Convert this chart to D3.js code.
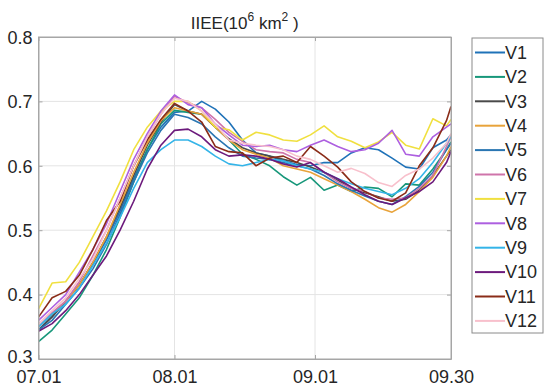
<!DOCTYPE html>
<html>
<head>
<meta charset="utf-8">
<script src="https://cdn.jsdelivr.net/npm/d3@7"></script>
<style>
  body { margin: 0; background: #fff; }
  text { font-family: "Liberation Sans", Arial, sans-serif; fill: #262626; }
</style>
</head>
<body>
<div id="chart"></div>
<script>
// day index from 07.01
var days = [0, 3, 6, 9, 12, 15, 18, 21, 24, 27, 30, 33, 36, 39, 42, 45, 48, 51, 54, 57, 60, 63, 66, 69, 72, 75, 78, 81, 84, 87, 90, 91];

var tickDays = [0, 30, 61, 91];
var tickLabels = ["07.01", "08.01", "09.01", "09.30"];
var yTicks = [0.3, 0.4, 0.5, 0.6, 0.7, 0.8];

var names = ["V1", "V2", "V3", "V4", "V5", "V6", "V7", "V8", "V9", "V10", "V11", "V12"];
var colors = ["#1f72b8", "#17977a", "#4a4a4a", "#e8a33a", "#2a76b2", "#cf74aa", "#f0e040", "#ad5fe0", "#34b4e8", "#6c1a7c", "#8a2c18", "#f8c0cc"];

var V1 = [0.345, 0.368, 0.39, 0.415, 0.448, 0.485, 0.53, 0.58, 0.625, 0.66, 0.683, 0.685, 0.70, 0.688, 0.668, 0.64, 0.62, 0.615, 0.608, 0.602, 0.60, 0.605, 0.605, 0.62, 0.628, 0.625, 0.612, 0.598, 0.595, 0.628, 0.64, 0.648];
var V2 = [0.327, 0.345, 0.37, 0.395, 0.43, 0.47, 0.52, 0.575, 0.625, 0.665, 0.686, 0.683, 0.68, 0.66, 0.64, 0.618, 0.61, 0.60, 0.583, 0.57, 0.582, 0.562, 0.57, 0.56, 0.567, 0.565, 0.552, 0.572, 0.57, 0.595, 0.625, 0.637];
var V3 = [0.345, 0.365, 0.39, 0.415, 0.45, 0.49, 0.535, 0.585, 0.632, 0.668, 0.695, 0.685, 0.68, 0.66, 0.642, 0.628, 0.62, 0.615, 0.61, 0.605, 0.598, 0.59, 0.578, 0.565, 0.558, 0.552, 0.545, 0.548, 0.562, 0.585, 0.615, 0.625];
var V4 = [0.35, 0.37, 0.39, 0.415, 0.45, 0.49, 0.54, 0.59, 0.635, 0.67, 0.69, 0.685, 0.68, 0.66, 0.64, 0.625, 0.618, 0.612, 0.60, 0.595, 0.59, 0.58, 0.57, 0.56, 0.548, 0.535, 0.528, 0.54, 0.56, 0.582, 0.615, 0.63];
var V5 = [0.345, 0.36, 0.385, 0.41, 0.44, 0.478, 0.525, 0.575, 0.62, 0.655, 0.68, 0.675, 0.665, 0.645, 0.628, 0.615, 0.612, 0.61, 0.605, 0.60, 0.595, 0.585, 0.572, 0.562, 0.553, 0.545, 0.54, 0.552, 0.568, 0.59, 0.625, 0.635];
var V6 = [0.35, 0.372, 0.39, 0.42, 0.46, 0.50, 0.55, 0.60, 0.645, 0.68, 0.708, 0.698, 0.69, 0.672, 0.652, 0.638, 0.625, 0.622, 0.62, 0.61, 0.605, 0.59, 0.575, 0.565, 0.56, 0.55, 0.548, 0.55, 0.565, 0.585, 0.63, 0.645];
var V7 = [0.378, 0.418, 0.42, 0.45, 0.49, 0.53, 0.575, 0.625, 0.66, 0.685, 0.70, 0.70, 0.685, 0.66, 0.656, 0.64, 0.652, 0.648, 0.64, 0.638, 0.648, 0.662, 0.645, 0.638, 0.628, 0.637, 0.652, 0.632, 0.626, 0.673, 0.662, 0.672];
var V8 = [0.36, 0.38, 0.40, 0.435, 0.47, 0.51, 0.56, 0.61, 0.65, 0.685, 0.71, 0.695, 0.69, 0.665, 0.648, 0.632, 0.63, 0.632, 0.625, 0.622, 0.632, 0.64, 0.63, 0.622, 0.625, 0.635, 0.655, 0.618, 0.615, 0.645, 0.66, 0.665];
var V9 = [0.35, 0.37, 0.385, 0.41, 0.445, 0.48, 0.52, 0.565, 0.605, 0.625, 0.64, 0.64, 0.63, 0.615, 0.603, 0.60, 0.605, 0.61, 0.608, 0.60, 0.595, 0.59, 0.58, 0.572, 0.565, 0.56, 0.555, 0.565, 0.58, 0.605, 0.635, 0.645];
var V10 = [0.343, 0.355, 0.375, 0.40, 0.43, 0.46, 0.50, 0.545, 0.595, 0.632, 0.655, 0.657, 0.645, 0.625, 0.615, 0.617, 0.615, 0.61, 0.603, 0.598, 0.605, 0.59, 0.58, 0.567, 0.555, 0.545, 0.54, 0.55, 0.56, 0.575, 0.605, 0.622];
var V11 = [0.365, 0.395, 0.405, 0.43, 0.47, 0.515, 0.545, 0.60, 0.64, 0.672, 0.697, 0.685, 0.668, 0.63, 0.622, 0.62, 0.60, 0.612, 0.615, 0.605, 0.63, 0.615, 0.598, 0.575, 0.56, 0.55, 0.545, 0.558, 0.60, 0.628, 0.67, 0.692];
var V12 = [0.355, 0.375, 0.395, 0.425, 0.455, 0.50, 0.55, 0.60, 0.645, 0.68, 0.705, 0.70, 0.685, 0.665, 0.64, 0.635, 0.632, 0.63, 0.625, 0.615, 0.61, 0.60, 0.59, 0.596, 0.588, 0.574, 0.568, 0.585, 0.595, 0.612, 0.635, 0.65];

var series = [V1, V2, V3, V4, V5, V6, V7, V8, V9, V10, V11, V12];

var width = 550, height = 392;
var margin = {top: 37, right: 99, bottom: 33, left: 38.5};
var innerW = width - margin.left - margin.right;
var innerH = height - margin.top - margin.bottom;

var svg = d3.select("#chart").append("svg")
    .attr("width", width)
    .attr("height", height);

svg.append("rect").attr("width", width).attr("height", height).attr("fill", "#fff");

var g = svg.append("g").attr("transform", "translate(" + margin.left + "," + margin.top + ")");

var x = d3.scaleLinear().domain([0, 91]).range([0, innerW]);
var y = d3.scaleLinear().domain([0.3, 0.8]).range([innerH, 0]);

// grid
g.append("g").selectAll("line").data(tickDays.slice(1, -1)).enter().append("line")
    .attr("x1", d => x(d)).attr("x2", d => x(d))
    .attr("y1", 0).attr("y2", innerH)
    .attr("stroke", "#e4e4e4").attr("stroke-width", 1);
g.append("g").selectAll("line").data(yTicks.slice(1, -1)).enter().append("line")
    .attr("y1", d => y(d)).attr("y2", d => y(d))
    .attr("x1", 0).attr("x2", innerW)
    .attr("stroke", "#e4e4e4").attr("stroke-width", 1);

// lines
var line = d3.line()
    .x((d, i) => x(days[i]))
    .y(d => y(d));

g.append("g").selectAll("path").data(series).enter().append("path")
    .attr("d", line)
    .attr("fill", "none")
    .attr("stroke", (d, i) => colors[i])
    .attr("stroke-width", 1.6)
    .attr("stroke-linejoin", "round");

// axes (matlab style box with inward ticks)
var xAxis = d3.axisBottom(x).tickValues(tickDays).tickFormat((d, i) => tickLabels[i]).tickSizeInner(-4).tickSizeOuter(0).tickPadding(11);
var yAxis = d3.axisLeft(y).tickValues(yTicks).tickFormat(d3.format(".1f")).tickSizeInner(-4).tickSizeOuter(0).tickPadding(6);

var gx = g.append("g").attr("transform", "translate(0," + innerH + ")").call(xAxis);
var gy = g.append("g").call(yAxis);
var gr = g.append("g").attr("transform", "translate(" + innerW + ",0)")
    .call(d3.axisRight(y).tickValues(yTicks).tickFormat("").tickSizeInner(-4).tickSizeOuter(0));
var gt = g.append("g")
    .call(d3.axisTop(x).tickValues(tickDays).tickFormat("").tickSizeInner(-4).tickSizeOuter(0));

[gx, gy, gr, gt].forEach(function (a) {
    a.select(".domain").attr("stroke", "#a6a6a6");
    a.selectAll(".tick line").attr("stroke", "#a6a6a6");
    a.selectAll("text").attr("font-size", 18).attr("fill", "#262626")
        .attr("font-family", "Liberation Sans, Arial, sans-serif");
});
gx.selectAll("text").attr("dy", "0.71em");
gy.selectAll("text").attr("dy", "0.35em");
// 0.3 sits right above 07.01, lift it a bit
gy.selectAll(".tick").filter(d => d === 0.3).select("text").attr("dy", "0.2em");

g.append("rect").attr("width", innerW).attr("height", innerH)
    .attr("fill", "none").attr("stroke", "#a6a6a6").attr("stroke-width", 1);

// title
var title = svg.append("text")
    .attr("x", margin.left + innerW / 2)
    .attr("y", 29)
    .attr("text-anchor", "middle")
    .attr("font-size", 17);
title.append("tspan").text("IIEE(10");
title.append("tspan").attr("font-size", 12).attr("dy", -8).text("6");
title.append("tspan").attr("dy", 8).text(" km");
title.append("tspan").attr("font-size", 12).attr("dy", -8).text("2");
title.append("tspan").attr("dy", 8).text(" )");

// legend
var lx = 472, ly = 38, lw = 71, lh = 295, step = 24.4;
var legend = svg.append("g");
legend.append("rect")
    .attr("x", lx).attr("y", ly).attr("width", lw).attr("height", lh)
    .attr("fill", "#fff").attr("stroke", "#8a8a8a").attr("stroke-width", 1);

var items = legend.selectAll("g.item").data(names).enter().append("g")
    .attr("class", "item")
    .attr("transform", (d, i) => "translate(" + lx + "," + (ly + 14.5 + i * step) + ")");
items.append("line")
    .attr("x1", 3).attr("x2", 33)
    .attr("stroke", (d, i) => colors[i])
    .attr("stroke-width", 2);
items.append("text")
    .attr("x", 33).attr("dy", "0.35em")
    .attr("font-size", 18)
    .text(d => d);
</script>
</body>
</html>
